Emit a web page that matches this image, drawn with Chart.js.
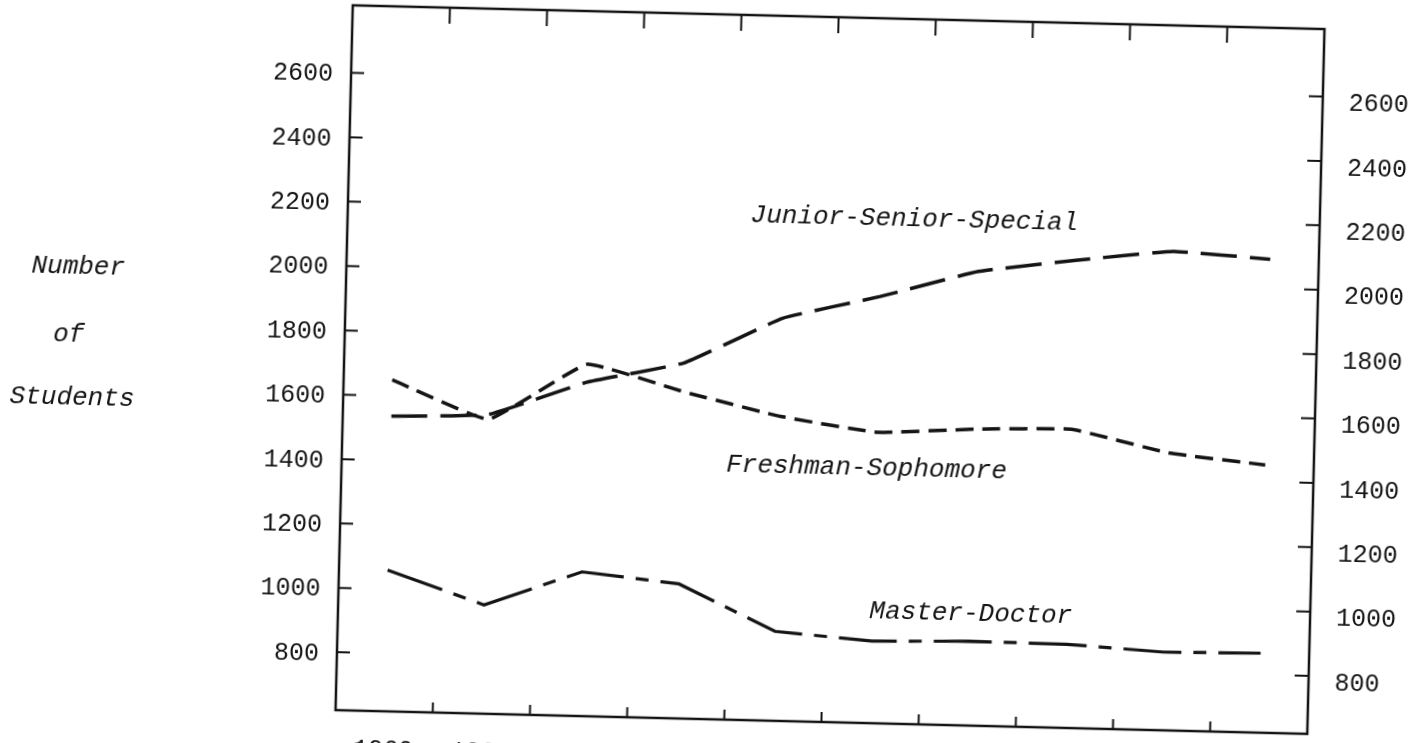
<!DOCTYPE html>
<html>
<head>
<meta charset="utf-8">
<script src="https://cdn.jsdelivr.net/npm/chart.js@4.4.1/dist/chart.umd.min.js"></script>
<style>
    html, body { margin: 0; padding: 0; background: #fff; overflow: hidden; width: 1424px; height: 743px; }
    /* the scanned page sits slightly crooked, so tilt the whole sheet a little */
    #sheet { position: absolute; left: 0; top: 0; width: 1424px; height: 800px;
             transform-origin: 826px 370px; transform: rotate(1.4deg); background: #fff; }
</style>
</head>
<body>
<div id="sheet"><canvas id="enrollChart" width="1424" height="800"></canvas></div>
<script>
// Enrollment by level
const years = ['1960', '1961', '1962', '1963', '1964', '1965', '1966', '1967', '1968', '1969'];
const juniorSeniorSpecial = [1537, 1550, 1657, 1725, 1871, 1946, 2031, 2073, 2108, 2091];
const freshmanSophomore = [1650, 1535, 1713, 1635, 1566, 1524, 1541, 1548, 1482, 1452];
const masterDoctor = [1059, 958, 1068, 1038, 898, 875, 882, 880, 863, 867];
const yTickValues = [800, 1000, 1200, 1400, 1600, 1800, 2000, 2200, 2400, 2600];

const INK = '#141414';
const MONO = '"Liberation Mono", "DejaVu Sans Mono", monospace';

// series labels written inside the plot (category index, value)
const seriesNotes = [
    { text: 'Junior-Senior-Special', at: [5.33, 2187] },
    { text: 'Freshman-Sophomore', at: [4.9, 1412] },
    { text: 'Master-Doctor', at: [6.01, 968] }
];

// frame + inward tick marks, like the typed original
const framePlugin = {
    id: 'frame',
    afterDatasetsDraw(chart) {
        const { ctx, chartArea: a, scales } = chart;
        ctx.save();
        ctx.strokeStyle = INK;
        ctx.lineWidth = 2.5;
        ctx.strokeRect(a.left, a.top, a.right - a.left, a.bottom - a.top);

        ctx.lineWidth = 2;
        ctx.beginPath();
        yTickValues.forEach(v => {
            const py = scales.y.getPixelForValue(v);
            ctx.moveTo(a.left, py);
            ctx.lineTo(a.left + 13, py);
            ctx.moveTo(a.right, py);
            ctx.lineTo(a.right - 14, py);
        });
        for (let i = 0; i < years.length - 1; i++) {
            const px = (scales.x.getPixelForValue(i) + scales.x.getPixelForValue(i + 1)) / 2;
            ctx.moveTo(px, a.top);
            ctx.lineTo(px, a.top + 16);
            ctx.moveTo(px, a.bottom);
            ctx.lineTo(px, a.bottom - 10);
        }
        ctx.stroke();
        ctx.restore();
    }
};

const notesPlugin = {
    id: 'notes',
    afterDraw(chart) {
        const { ctx, scales } = chart;
        ctx.save();
        ctx.fillStyle = INK;
        ctx.textAlign = 'center';
        ctx.textBaseline = 'middle';
        ctx.font = 'italic 26px ' + MONO;
        seriesNotes.forEach(n => {
            ctx.fillText(n.text, scales.x.getPixelForValue(n.at[0]), scales.y.getPixelForValue(n.at[1]));
        });

        // y title, stacked in three typed lines
        ctx.fillText('Number', 76, 285);
        ctx.fillText('of', 68, 353);
        ctx.fillText('Students', 73, 416);
        ctx.restore();
    }
};

function lineSet(label, data, dash, width) {
    return {
        label: label,
        data: data,
        borderColor: INK,
        borderWidth: width,
        borderDash: dash,
        borderCapStyle: 'butt',
        pointRadius: 0,
        fill: false,
        tension: 0.1,
        yAxisID: 'y'
    };
}

const tickFont = { family: MONO, size: 25 };
const plainNumber = v => String(v);

// fixed box sizes so the plot area lands where the original frame is
function fixWidth(w) {
    return s => { s.width = w; s.paddingTop = 0; s.paddingBottom = 0; };
}

new Chart(document.getElementById('enrollChart').getContext('2d'), {
    type: 'line',
    data: {
        labels: years,
        datasets: [
            lineSet('Junior-Senior-Special', juniorSeniorSpecial, [36, 13], 3.5),
            lineSet('Freshman-Sophomore', freshmanSophomore, [18, 9], 3.5),
            Object.assign(lineSet('Master-Doctor', masterDoctor, [58, 12, 13, 12], 3.2), { tension: 0 })
        ]
    },
    options: {
        responsive: false,
        animation: false,
        layout: { padding: { top: 17, left: 0, right: 0, bottom: 0 } },
        plugins: {
            legend: { display: false },
            tooltip: { enabled: false }
        },
        scales: {
            x: {
                type: 'category',
                offset: true,
                grid: { display: false, drawTicks: false, offset: true },
                border: { display: false },
                ticks: { color: INK, font: tickFont, padding: 24, maxRotation: 0, autoSkip: false },
                afterFit: s => { s.height = 78; s.paddingLeft = 0; s.paddingRight = 0; }
            },
            y: {
                position: 'left',
                min: 620,
                max: 2810,
                afterBuildTicks: s => { s.ticks = yTickValues.map(v => ({ value: v })); },
                grid: { display: false, drawTicks: false },
                border: { display: false },
                ticks: { color: INK, font: tickFont, padding: 18, labelOffset: 2, callback: plainNumber },
                afterFit: fixWidth(344)
            },
            y2: {
                position: 'right',
                min: 620,
                max: 2810,
                afterBuildTicks: s => { s.ticks = yTickValues.map(v => ({ value: v })); },
                grid: { display: false, drawTicks: false },
                border: { display: false },
                // the typed right-hand numbers sit a little under their tick marks
                ticks: { color: INK, font: tickFont, padding: 26, labelOffset: 7, callback: plainNumber },
                afterFit: fixWidth(108)
            }
        }
    },
    plugins: [framePlugin, notesPlugin]
});
</script>
</body>
</html>
